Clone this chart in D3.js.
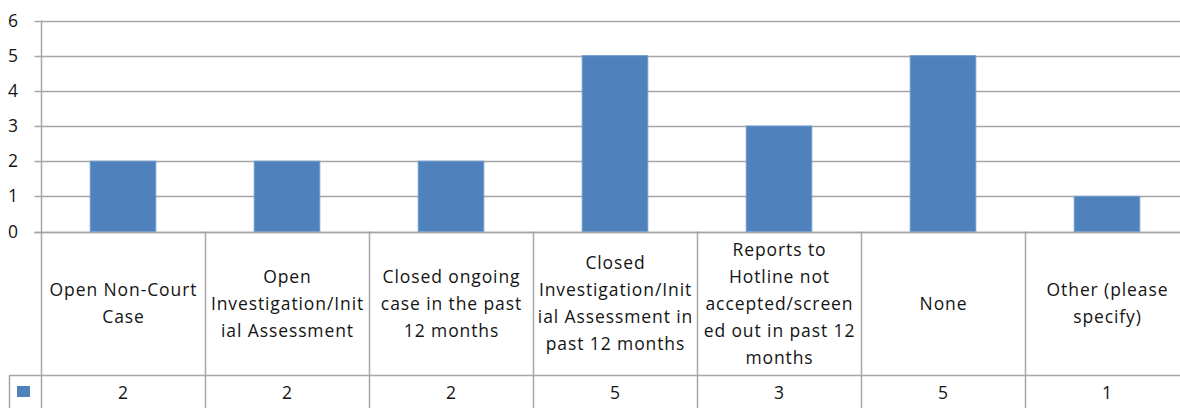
<!DOCTYPE html>
<html>
<head>
<meta charset="utf-8">
<script src="https://cdn.jsdelivr.net/npm/d3@7"></script>
<style>
  html, body { margin: 0; padding: 0; background: #fff; }
  svg text { font-family: "Open Sans", sans-serif; font-size: 17.5px; fill: #141414; letter-spacing: 0.9px; }
</style>
</head>
<body>
<svg class="chart" width="1180" height="408"></svg>
<script>
// category labels, broken into lines the way the table cells wrap them
var categories = [
    ["Open Non-Court", "Case"],
    ["Open", "Investigation/Init", "ial Assessment"],
    ["Closed ongoing", "case in the past", "12 months"],
    ["Closed", "Investigation/Init", "ial Assessment in", "past 12 months"],
    ["Reports to", "Hotline not", "accepted/screen", "ed out in past 12", "months"],
    ["None"],
    ["Other (please", "specify)"]
];
var values = [2, 2, 2, 5, 3, 5, 1];
var yTicks = [0, 1, 2, 3, 4, 5, 6];

var svg = d3.select("svg.chart"),
    margin = {top: 20.5, left: 41.5},
    bandW = 164,
    plotH = 211,
    tableBottom = 408,
    rowLine = 375.5,
    lineH = 27;

var keys = categories.map(function(d, i) { return "c" + i; });

var x = d3.scaleBand()
    .domain(keys)
    .range([margin.left, margin.left + bandW * keys.length])
    .paddingInner(0)
    .paddingOuter(0);

var y = d3.scaleLinear()
    .domain([0, 6])
    .range([margin.top + plotH, margin.top]);

var grid = "#a6a6a6";

// gridlines and y tick marks
svg.append("g")
    .selectAll("line")
    .data(yTicks)
    .enter()
    .append("line")
    .attr("x1", margin.left - 7)
    .attr("x2", 1180)
    .attr("y1", function(d) { return Math.round(y(d)) + 0.5; })
    .attr("y2", function(d) { return Math.round(y(d)) + 0.5; })
    .style("stroke", grid)
    .style("stroke-width", 1.5);

// y labels
svg.append("g")
    .selectAll("text")
    .data(yTicks)
    .enter()
    .append("text")
    .attr("x", 19)
    .attr("y", function(d) { return y(d); })
    .attr("dy", "0.35em")
    .attr("text-anchor", "end")
    .text(function(d) { return d; });

// bars
svg.append("g")
    .selectAll("rect")
    .data(values)
    .enter()
    .append("rect")
    .attr("x", function(d, i) { return x(keys[i]) + x.bandwidth() * 0.3 - 0.5; })
    .attr("width", x.bandwidth() * 0.4)
    .attr("y", function(d) { return y(d); })
    .attr("height", function(d) { return y(0) - y(d); })
    .style("fill", "#4f81bd")
    .style("stroke", "#6e9bd2")
    .style("stroke-width", 1);

// redraw baseline over the bars
svg.append("line")
    .attr("x1", margin.left - 7)
    .attr("x2", 1180)
    .attr("y1", Math.round(y(0)) + 0.5)
    .attr("y2", Math.round(y(0)) + 0.5)
    .style("stroke", grid)
    .style("stroke-width", 1.5);

// data table: vertical cell borders
var edges = keys.map(function(k) { return x(k); });
edges.push(x.range()[1]);

svg.append("line")
    .attr("x1", margin.left).attr("x2", margin.left)
    .attr("y1", margin.top).attr("y2", tableBottom)
    .style("stroke", grid).style("stroke-width", 1.5);

svg.append("g")
    .selectAll("line")
    .data(edges.slice(1))
    .enter()
    .append("line")
    .attr("x1", function(d) { return Math.round(d) - 0.5; })
    .attr("x2", function(d) { return Math.round(d) - 0.5; })
    .attr("y1", y(0))
    .attr("y2", tableBottom)
    .style("stroke", grid)
    .style("stroke-width", 1.5);

// row separator and legend cell
svg.append("line")
    .attr("x1", 9).attr("x2", 1180)
    .attr("y1", rowLine).attr("y2", rowLine)
    .style("stroke", grid).style("stroke-width", 1.5);
svg.append("line")
    .attr("x1", 9.5).attr("x2", 9.5)
    .attr("y1", rowLine).attr("y2", tableBottom)
    .style("stroke", grid).style("stroke-width", 1.5);
svg.append("rect")
    .attr("x", 17).attr("y", 386)
    .attr("width", 13).attr("height", 11)
    .style("fill", "#4f81bd");

// category labels
var cellMid = (y(0) + rowLine) / 2;
svg.append("g")
    .selectAll("text")
    .data(categories)
    .enter()
    .append("text")
    .attr("text-anchor", "middle")
    .each(function(lines, i) {
        var t = d3.select(this);
        var cx = x(keys[i]) + x.bandwidth() / 2;
        var y0 = cellMid - (lines.length - 1) * lineH / 2;
        lines.forEach(function(s, j) {
            t.append("tspan")
                .attr("x", cx)
                .attr("y", y0 + j * lineH)
                .attr("dy", "0.35em")
                .text(s);
        });
    });

// values row
svg.append("g")
    .selectAll("text")
    .data(values)
    .enter()
    .append("text")
    .attr("text-anchor", "middle")
    .attr("x", function(d, i) { return x(keys[i]) + x.bandwidth() / 2; })
    .attr("y", (rowLine + tableBottom) / 2 + 1)
    .attr("dy", "0.35em")
    .text(function(d) { return d; });
</script>
</body>
</html>
